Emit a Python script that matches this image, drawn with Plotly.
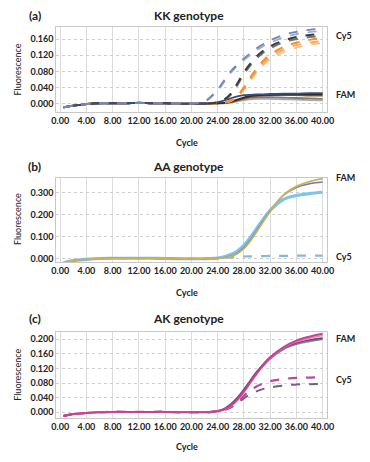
import plotly.graph_objects as go

W, H = 370, 462

# cycle positions where values were read
cycles = [0.5, 2, 4, 6, 8, 10, 12, 14, 16, 18, 20,
          22, 23, 24, 25, 26, 27, 28, 29, 30, 31, 32, 34, 36, 38, 40]

# ---- (a) KK genotype ----
base_a = [-0.009, -0.005, -0.001, 0.001, 0.001, 0.001, 0.002, 0.001, 0.001, 0.000, 0.000]
kk_cy5_blue1 = base_a + [0.006, 0.018, 0.035, 0.058, 0.080, 0.097, 0.112, 0.125, 0.138, 0.148, 0.157, 0.170, 0.178, 0.183, 0.186]
kk_cy5_blue2 = base_a + [0.005, 0.016, 0.032, 0.054, 0.076, 0.094, 0.108, 0.121, 0.133, 0.143, 0.151, 0.164, 0.172, 0.177, 0.180]
kk_cy5_dark1 = base_a + [0.000, 0.001, 0.003, 0.010, 0.025, 0.050, 0.078, 0.100, 0.118, 0.132, 0.142, 0.156, 0.165, 0.170, 0.173]
kk_cy5_dark2 = base_a + [0.000, 0.001, 0.003, 0.009, 0.022, 0.046, 0.073, 0.095, 0.113, 0.127, 0.137, 0.152, 0.160, 0.165, 0.168]
kk_cy5_orng1 = base_a + [0.000, 0.000, 0.001, 0.003, 0.008, 0.020, 0.040, 0.065, 0.088, 0.107, 0.121, 0.140, 0.151, 0.158, 0.162]
kk_cy5_orng2 = base_a + [0.000, 0.000, 0.001, 0.003, 0.007, 0.018, 0.037, 0.061, 0.083, 0.101, 0.115, 0.134, 0.145, 0.151, 0.155]
kk_cy5_orng3 = base_a + [0.000, 0.000, 0.001, 0.002, 0.006, 0.016, 0.034, 0.057, 0.078, 0.096, 0.110, 0.128, 0.139, 0.146, 0.150]
kk_fam_navy = base_a + [0.001, 0.002, 0.004, 0.008, 0.013, 0.018, 0.021, 0.022, 0.023, 0.023, 0.024, 0.025, 0.025, 0.026, 0.026]
kk_fam_brown = base_a + [0.000, 0.000, 0.001, 0.002, 0.004, 0.008, 0.013, 0.017, 0.019, 0.020, 0.021, 0.021, 0.021, 0.020, 0.020]
kk_fam_black = base_a + [0.000, 0.000, 0.001, 0.002, 0.005, 0.010, 0.015, 0.019, 0.021, 0.022, 0.022, 0.023, 0.023, 0.023, 0.023]
kk_fam_gray1 = base_a + [0.000, 0.000, 0.001, 0.002, 0.004, 0.008, 0.012, 0.015, 0.016, 0.016, 0.016, 0.015, 0.014, 0.013, 0.012]
kk_fam_gray2 = base_a + [0.000, 0.000, 0.000, 0.001, 0.003, 0.006, 0.009, 0.011, 0.012, 0.012, 0.012, 0.011, 0.010, 0.009, 0.008]

# ---- (b) AA genotype ----
base_b = [-0.020, -0.010, -0.004, 0.000, 0.001, 0.001, 0.001, 0.001, 0.000, -0.001, -0.001]
aa_fam_yellow = base_b + [-0.001, 0.000, 0.001, 0.004, 0.010, 0.022, 0.045, 0.080, 0.125, 0.170, 0.215, 0.290, 0.330, 0.352, 0.365]
aa_fam_purple = base_b + [-0.001, 0.000, 0.001, 0.005, 0.012, 0.025, 0.050, 0.085, 0.130, 0.175, 0.218, 0.288, 0.325, 0.342, 0.350]
aa_fam_blue = base_b + [-0.001, 0.000, 0.002, 0.008, 0.018, 0.034, 0.060, 0.097, 0.140, 0.182, 0.220, 0.270, 0.288, 0.297, 0.303]
aa_cy5_blue = base_b + [-0.001, 0.000, 0.000, 0.002, 0.005, 0.007, 0.009, 0.010, 0.011, 0.011, 0.012, 0.012, 0.013, 0.013, 0.013]

# ---- (c) AK genotype ----
base_c = [-0.010, -0.005, -0.002, 0.000, 0.001, 0.001, 0.001, 0.001, 0.001, 0.000, 0.000]
ak_fam_pink1 = base_c + [0.000, 0.001, 0.003, 0.008, 0.018, 0.035, 0.057, 0.083, 0.108, 0.130, 0.150, 0.178, 0.196, 0.207, 0.215]
ak_fam_pink2 = base_c + [0.000, 0.001, 0.003, 0.007, 0.016, 0.032, 0.054, 0.080, 0.106, 0.129, 0.149, 0.177, 0.193, 0.203, 0.210]
ak_fam_dark = base_c + [0.000, 0.001, 0.004, 0.010, 0.022, 0.040, 0.063, 0.088, 0.112, 0.133, 0.151, 0.176, 0.190, 0.198, 0.203]
ak_fam_violet = base_c + [0.000, 0.001, 0.003, 0.008, 0.019, 0.036, 0.058, 0.083, 0.107, 0.128, 0.146, 0.172, 0.186, 0.194, 0.200]
ak_cy5_mag = base_c + [0.000, 0.001, 0.003, 0.007, 0.015, 0.028, 0.045, 0.060, 0.071, 0.079, 0.085, 0.091, 0.094, 0.095, 0.096]
ak_cy5_dark = base_c + [0.000, 0.001, 0.003, 0.006, 0.013, 0.025, 0.038, 0.050, 0.058, 0.064, 0.068, 0.073, 0.076, 0.077, 0.078]

x_ticks = [0, 4, 8, 12, 16, 20, 24, 28, 32, 36, 40]
y_ticks_a = [0.0, 0.04, 0.08, 0.12, 0.16]
y_ticks_b = [0.0, 0.1, 0.2, 0.3]
y_ticks_c = [0.0, 0.04, 0.08, 0.12, 0.16, 0.2]

FONT = "Lato"

def px_x(p):
    return p / W

def px_y(p):
    return 1 - p / H

fig = go.Figure()

def add(series, color, axis, dash="solid", width=1.8):
    fig.add_trace(go.Scatter(
        x=cycles, y=series, mode="lines", line_shape="spline",
        line=dict(color=color, width=width, dash=dash),
        xaxis="x" + axis, yaxis="y" + axis, showlegend=False,
        hoverinfo="skip"))

# panel a
add(kk_fam_gray2, "#a8a8a8", "")
add(kk_fam_gray1, "#7d7d7d", "")
add(kk_fam_brown, "#8a5a2b", "")
add(kk_fam_black, "#3a2a1a", "")
add(kk_fam_navy, "#34507f", "")
add(kk_cy5_orng3, "#f7c08a", "", "dash", 1.8)
add(kk_cy5_orng2, "#f4a860", "", "dash", 1.8)
add(kk_cy5_orng1, "#f09030", "", "dash", 2)
add(kk_cy5_dark2, "#707070", "", "dash", 2)
add(kk_cy5_dark1, "#3c3c3c", "", "dash", 2)
add(kk_cy5_blue2, "#9aaed0", "", "dash", 1.8)
add(kk_cy5_blue1, "#7088b8", "", "dash", 1.8)

# panel b
add(aa_cy5_blue, "#86b8dc", "2", "dash", 2.2)
add(aa_fam_blue, "#7cc4ee", "2", "solid", 3.2)
add(aa_fam_purple, "#7a72b8", "2", "solid", 1.5)
add(aa_fam_yellow, "#c9b45a", "2", "solid", 1.8)

# panel c
add(ak_cy5_dark, "#7a5a88", "3", "dash", 2)
add(ak_cy5_mag, "#b84a9e", "3", "dash", 2.2)
add(ak_fam_violet, "#7f78b8", "3", "solid", 1.6)
add(ak_fam_dark, "#6a4a6a", "3", "solid", 1.6)
add(ak_fam_pink2, "#e884bc", "3", "solid", 1.6)
add(ak_fam_pink1, "#cc3f92", "3", "solid", 2)

tick_font = dict(family=FONT, size=9, color="#222222", weight="bold")

def xaxis(anchor):
    return dict(domain=[px_x(53), px_x(333)], range=[-0.6, 40.7], anchor=anchor,
                tickvals=x_ticks, tickformat=".2f", tickfont=tick_font, tickangle=0,
                showgrid=True, gridcolor="#dcdcdc", gridwidth=1,
                showline=True, linecolor="#c8c8c8", mirror=True,
                zeroline=False, ticks="", fixedrange=True)

def yaxis(top, bottom, rng, ticks, anchor):
    return dict(domain=[px_y(bottom), px_y(top)], range=rng, anchor=anchor,
                tickvals=ticks, tickformat=".3f", tickfont=tick_font,
                showgrid=True, gridcolor="#cfcfcf", griddash="dot",
                showline=True, linecolor="#c8c8c8", mirror=True,
                zeroline=False, ticks="", fixedrange=True)

fig.update_layout(
    width=W, height=H, margin=dict(l=0, r=0, t=0, b=0),
    paper_bgcolor="white", plot_bgcolor="white",
    xaxis=xaxis("y"), xaxis2=xaxis("y2"), xaxis3=xaxis("y3"),
    yaxis=yaxis(27, 112, [-0.02, 0.19], y_ticks_a, "x"),
    yaxis2=yaxis(178, 263, [-0.018, 0.37], y_ticks_b, "x2"),
    yaxis3=yaxis(333, 419, [-0.016, 0.219], y_ticks_c, "x3"),
    font=dict(family=FONT, color="#222222"),
)

def text(s, x, y, size=9, bold=False, angle=0):
    fig.add_annotation(text=s, x=px_x(x), y=px_y(y), xref="paper", yref="paper",
                       xanchor="center", yanchor="middle",
                       showarrow=False, textangle=angle,
                       font=dict(family=FONT, size=size, color="#222222",
                                 weight="bold" if bold else "normal"))

for lab, title, ty, cy, fy in [("(a)", "KK genotype", 16, 143, 70),
                                ("(b)", "AA genotype", 167, 293, 220),
                                ("(c)", "AK genotype", 319, 447, 376)]:
    text(lab, 31, ty, 12, True)
    text(title, 190, ty, 12, True)
    text("Cycle", 188, cy, 9, True)
    text("Fluorescence", 13, fy, 9, False, -90)

text("Cy5", 350, 36, 9, True)
text("FAM", 352, 95, 9, True)
text("FAM", 352, 178, 9, True)
text("Cy5", 350, 257, 9, True)
text("FAM", 352, 339, 9, True)
text("Cy5", 350, 380, 9, True)

fig.write_html("out.html", config={"displayModeBar": False},
               post_script="document.body.style.margin='0px';")
